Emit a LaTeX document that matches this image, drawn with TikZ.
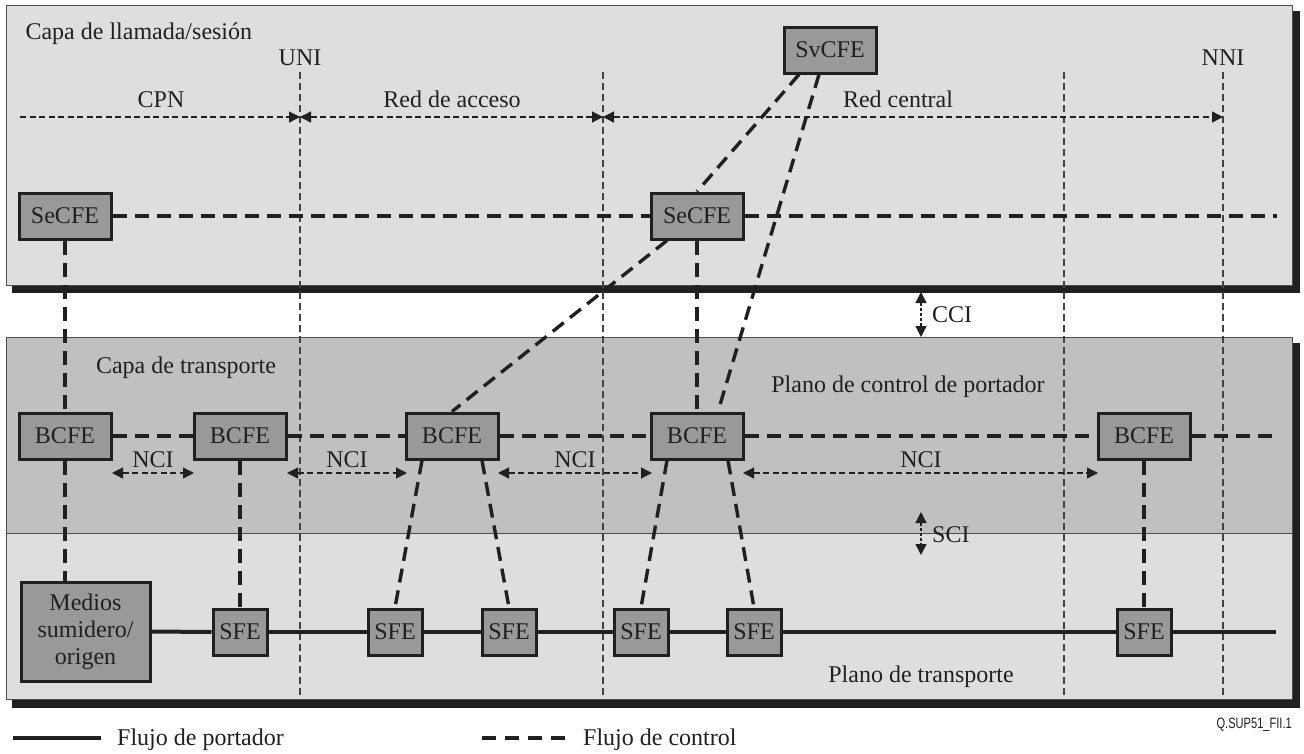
\documentclass[tikz,border=0pt]{standalone}
\usepackage{fontspec}
\usepackage{graphicx}
\setmainfont{Liberation Serif}
\newfontfamily\figsans{Liberation Sans}
\usetikzlibrary{arrows.meta}
\definecolor{ink}{HTML}{231F20}
\definecolor{layerlight}{HTML}{DEDEDE}
\definecolor{layerdark}{HTML}{C0C0C0}
\definecolor{fefill}{HTML}{999999}
\definecolor{frame}{HTML}{4D4D4D}

\begin{document}
\begin{tikzpicture}[x=1pt,y=-1pt,
  every node/.style={text=ink, font=\fontsize{24}{27}\selectfont},
  fe/.style={draw=ink, line width=3pt, fill=fefill, minimum width=92pt,
             minimum height=46pt, inner sep=0pt},
  sfe/.style={fe, minimum width=54pt},
  ctrl/.style={draw=ink, line width=3.4pt, dash pattern=on 14pt off 8pt},
  bearer/.style={draw=ink, line width=4pt},
  boundary/.style={draw=ink!85, line width=1.3pt, dash pattern=on 7pt off 4pt},
  span/.style={draw=ink, line width=1.3pt, dash pattern=on 6pt off 3.5pt},
  tipend/.style={-{Triangle[length=11pt,width=11pt]}},
  tipboth/.style={{Triangle[length=11pt,width=11pt]}-{Triangle[length=11pt,width=11pt]}},
  ifarrow/.style={draw=ink, line width=1.3pt, dash pattern=on 3pt off 2pt, tipboth},
  layer/.style={draw=frame, line width=1pt},
  shadow/.style={fill=ink}
]
\useasboundingbox (0,0) rectangle (1304,753);
\fill[white] (0,0) rectangle (1304,753);

% call/session layer with drop shadow
\fill[shadow] (12,11) rectangle (1300,293);
\filldraw[layer, fill=layerlight] (6,5) rectangle (1292,285);

% transport layer with drop shadow
\fill[shadow] (12,343) rectangle (1300,708);
\fill[layerdark] (6,337) rectangle (1292,533);
\fill[layerlight] (6,533) rectangle (1292,699);
\draw[layer] (6,533) -- (1292,533);
\draw[layer] (6,337) rectangle (1292,699);

% interface boundaries
\coordinate (uniT) at (300,72);   \coordinate (uniB) at (300,697);
\coordinate (accT) at (603,72);   \coordinate (accB) at (603,697);
\coordinate (ctrT) at (1064,72);  \coordinate (ctrB) at (1064,697);
\coordinate (nniT) at (1223,72);  \coordinate (nniB) at (1223,697);
\draw[boundary] (uniT) -- (uniB);
\draw[boundary] (accT) -- (accB);
\draw[boundary] (ctrT) -- (ctrB);
\draw[boundary] (nniT) -- (nniB);

% domain spans
\coordinate (cpnL) at (20,117);
\coordinate (uniM) at (300,117);
\coordinate (accM) at (603,117);
\coordinate (nniM) at (1223,117);
\draw[span, tipend] (cpnL) -- (uniM);
\draw[span, tipboth] (uniM) -- (accM);
\draw[span, tipboth] (accM) -- (nniM);

% texts
\node[anchor=base west] (calllayer) at (22,39) {Capa de llamada/sesión};
\node[anchor=base] (uni) at (300,65) {UNI};
\node[anchor=base] (nni) at (1223,65) {NNI};
\node[anchor=base] (cpn) at (161,107) {CPN};
\node[anchor=base] (access) at (452,107) {Red de acceso};
\node[anchor=base] (core) at (898,107) {Red central};
\node[anchor=base] (translayer) at (186,373) {Capa de transporte};
\node[anchor=base] (bcplane) at (908,392) {Plano de control de portador};
\node[anchor=base] (tplane) at (921,682) {Plano de transporte};

% functional entities
\node[fe] (svcfe)  at (830,50)  {SvCFE};
\node[fe] (secfeA) at (65,216)  {SeCFE};
\node[fe] (secfeB) at (697,216) {SeCFE};
\node[fe] (bcfeA) at (65,436)   {BCFE};
\node[fe] (bcfeB) at (240,436)  {BCFE};
\node[fe] (bcfeC) at (452,436)  {BCFE};
\node[fe] (bcfeD) at (697,436)  {BCFE};
\node[fe] (bcfeE) at (1144,436) {BCFE};
\node[sfe] (sfeA) at (240,632)  {SFE};
\node[sfe] (sfeB) at (395,632)  {SFE};
\node[sfe] (sfeC) at (509,632)  {SFE};
\node[sfe] (sfeD) at (641,632)  {SFE};
\node[sfe] (sfeE) at (754,632)  {SFE};
\node[sfe] (sfeF) at (1144,632) {SFE};
\node[fe, minimum width=129pt, minimum height=99pt, align=center,
      font=\fontsize{24}{27}\selectfont] (media) at (85.5,631.5)
      {Medios\\sumidero/\\origen};

% control flows
\coordinate (secEnd) at (1277,216);
\coordinate (bcEnd) at (1275,436);
\draw[ctrl] (secfeA.east) -- (secfeB.west);
\draw[ctrl] (secfeB.east) -- (secEnd);
\draw[ctrl] ([xshift=-31pt]svcfe.south) -- (secfeB.north);
\draw[ctrl] ([xshift=-11pt]svcfe.south) -- ([xshift=21pt]bcfeD.north);
\draw[ctrl] ([xshift=-30pt]secfeB.south) -- (bcfeC.north);
\draw[ctrl] (secfeB.south) -- (bcfeD.north);
\draw[ctrl] (secfeA.south) -- (bcfeA.north);
\draw[ctrl] (bcfeA.south) -- (bcfeA.south |- media.north);
\draw[ctrl] (bcfeA.east) -- (bcfeB.west);
\draw[ctrl] (bcfeB.east) -- (bcfeC.west);
\draw[ctrl] (bcfeC.east) -- (bcfeD.west);
\draw[ctrl] (bcfeD.east) -- (bcfeE.west);
\draw[ctrl] (bcfeE.east) -- (bcEnd);
\draw[ctrl] (bcfeB.south) -- (sfeA.north);
\draw[ctrl] ([xshift=-30pt]bcfeC.south) -- (sfeB.north);
\draw[ctrl] ([xshift=30pt]bcfeC.south) -- (sfeC.north);
\draw[ctrl] ([xshift=-30pt]bcfeD.south) -- (sfeD.north);
\draw[ctrl] ([xshift=31pt]bcfeD.south) -- (sfeE.north);
\draw[ctrl] (bcfeE.south) -- (sfeF.north);

% bearer flow
\coordinate (bearerEnd) at (1276,632);
\draw[bearer] (media.east) -- (sfeA.west);
\draw[bearer] (sfeA.east) -- (sfeB.west);
\draw[bearer] (sfeB.east) -- (sfeC.west);
\draw[bearer] (sfeC.east) -- (sfeD.west);
\draw[bearer] (sfeD.east) -- (sfeE.west);
\draw[bearer] (sfeE.east) -- (sfeF.west);
\draw[bearer] (sfeF.east) -- (bearerEnd);

% network control interfaces
\coordinate (nciAl) at (112,473); \coordinate (nciAr) at (194,473);
\coordinate (nciBl) at (287,473); \coordinate (nciBr) at (407,473);
\coordinate (nciCl) at (498,473); \coordinate (nciCr) at (652,473);
\coordinate (nciDl) at (743,473); \coordinate (nciDr) at (1098,473);
\draw[span, tipboth] (nciAl) -- (nciAr);
\draw[span, tipboth] (nciBl) -- (nciBr);
\draw[span, tipboth] (nciCl) -- (nciCr);
\draw[span, tipboth] (nciDl) -- (nciDr);
\node[anchor=base] (nciA) at (153,467) {NCI};
\node[anchor=base] (nciB) at (347,467) {NCI};
\node[anchor=base] (nciC) at (575,467) {NCI};
\node[anchor=base] (nciD) at (921,467) {NCI};

% inter-layer interfaces
\coordinate (cciT) at (921,292); \coordinate (cciB) at (921,337);
\coordinate (sciT) at (921,512); \coordinate (sciB) at (921,555);
\draw[ifarrow] (cciT) -- (cciB);
\draw[ifarrow] (sciT) -- (sciB);
\node[anchor=base west, inner sep=0pt] (cci) at (932,322) {CCI};
\node[anchor=base west, inner sep=0pt] (sci) at (932,542) {SCI};

% legend
\coordinate (lgA1) at (13,738);  \coordinate (lgA2) at (101,738);
\coordinate (lgB1) at (482,738); \coordinate (lgB2) at (568,738);
\draw[bearer] (lgA1) -- (lgA2);
\draw[ctrl, dash pattern=on 14pt off 9pt] (lgB1) -- (lgB2);
\node[anchor=base west, inner sep=0pt] (lgAt) at (117,745) {Flujo de portador};
\node[anchor=base west, inner sep=0pt] (lgBt) at (583,745) {Flujo de control};
\node[anchor=base east, inner sep=0pt, font=\figsans\fontsize{15}{17}\selectfont]
  (figid) at (1292,728) {\scalebox{0.74}[1]{Q.SUP51\_FII.1}};
\end{tikzpicture}
\end{document}
